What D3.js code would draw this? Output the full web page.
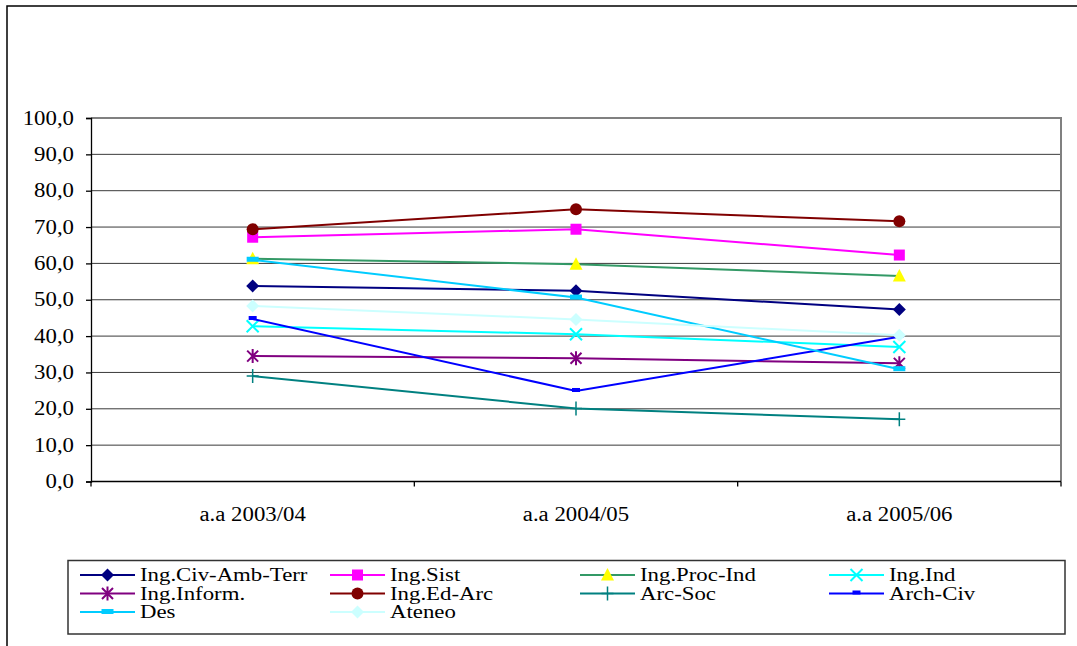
<!DOCTYPE html>
<html>
<head>
<meta charset="utf-8">
<script src="https://cdn.jsdelivr.net/npm/d3@7"></script>
<style>
  html, body { margin: 0; padding: 0; background: #fff; }
  svg { display: block; }
</style>
</head>
<body>
<div id="chart"></div>
<script>
// categories and tick labels
var categories = ["a.a 2003/04", "a.a 2004/05", "a.a 2005/06"];
var yTicks = [0, 10, 20, 30, 40, 50, 60, 70, 80, 90, 100];

// series names (legend order)
var seriesNames = ["Ing.Civ-Amb-Terr", "Ing.Sist", "Ing.Proc-Ind", "Ing.Ind", "Ing.Inform.",
                   "Ing.Ed-Arc", "Arc-Soc", "Arch-Civ", "Des", "Ateneo"];

// series values
var civAmbTerr = [53.8, 52.5, 47.3];
var sist       = [67.2, 69.4, 62.3];
var procInd    = [61.3, 59.8, 56.5];
var ind        = [42.7, 40.5, 37.0];
var inform     = [34.5, 33.9, 32.5];
var edArc      = [69.4, 74.9, 71.6];
var arcSoc     = [29.0, 20.1, 17.1];
var archCiv    = [44.7, 24.9, 39.8];
var des        = [61.0, 50.6, 30.9];
var ateneo     = [48.3, 44.6, 40.2];

var seriesValues = [civAmbTerr, sist, procInd, ind, inform, edArc, arcSoc, archCiv, des, ateneo];

// look of each series
var styles = [
    {line: "#000080", marker: "diamond",  fill: "#000080"},
    {line: "#FF00FF", marker: "square",   fill: "#FF00FF"},
    {line: "#339966", marker: "triangle", fill: "#FFFF00"},
    {line: "#00FFFF", marker: "x",        fill: "#00FFFF"},
    {line: "#800080", marker: "star",     fill: "#800080"},
    {line: "#800000", marker: "circle",   fill: "#800000"},
    {line: "#008080", marker: "plus",     fill: "#008080"},
    {line: "#0000FF", marker: "dashSmall",fill: "#0000FF"},
    {line: "#00CCFF", marker: "dash",     fill: "#00CCFF"},
    {line: "#CCFFFF", marker: "diamond",  fill: "#CCFFFF"}
];

var W = 1077, H = 646;
var plot = {left: 91, right: 1061, top: 118, bottom: 481.5};

var svg = d3.select("#chart").append("svg").attr("width", W).attr("height", H);

// outer chart frame (only top/left edges are visible)
svg.append("rect")
    .attr("x", 7).attr("y", 6).attr("width", 1200).attr("height", 800)
    .attr("fill", "none").attr("stroke", "#000").attr("stroke-width", 1.5);

var x = d3.scaleBand().domain(categories).range([plot.left, plot.right]);
var y = d3.scaleLinear().domain([0, 100]).range([plot.bottom, plot.top]);
var cx = function (c) { return x(c) + x.bandwidth() / 2; };

// text is drawn a bit wider than normal, like the source picture
function label(g, tx, ty, str, anchor, size, stretch) {
    var t = g.append("text")
        .attr("x", tx).attr("y", ty)
        .attr("text-anchor", anchor || "start")
        .style("font-family", "Liberation Serif")
        .style("font-size", (size || 20) + "px")
        .attr("fill", "#000")
        .text(str);
    var len = t.node().getComputedTextLength();
    t.attr("textLength", len * (stretch || 1.14)).attr("lengthAdjust", "spacingAndGlyphs");
    return t;
}

// gridlines
svg.append("g").selectAll("line").data(yTicks.filter(function (d) { return d > 0 && d < 100; }))
    .enter().append("line")
    .attr("x1", plot.left).attr("x2", plot.right)
    .attr("y1", function (d) { return y(d); }).attr("y2", function (d) { return y(d); })
    .attr("stroke", "#3a3a3a").attr("stroke-width", 1);

// plot border top/right
svg.append("path")
    .attr("d", "M" + plot.left + "," + y(100) + "H" + plot.right + "V" + plot.bottom)
    .attr("fill", "none").attr("stroke", "#808080").attr("stroke-width", 2);

// y axis
var yAxis = d3.axisLeft(y).tickValues(yTicks).tickSize(5).tickFormat("");
var yg = svg.append("g").attr("transform", "translate(" + plot.left + ",0)").call(yAxis);
yg.selectAll("path, line").attr("stroke", "#000").attr("stroke-width", 1.3);
yTicks.forEach(function (t) {
    label(svg, 74, y(t) + 6.5, d3.format(".1f")(t).replace(".", ","), "end");
});

// x axis: ticks at category boundaries
var xg = svg.append("g").attr("transform", "translate(0," + plot.bottom + ")");
xg.append("line").attr("x1", plot.left).attr("x2", plot.right).attr("stroke", "#000").attr("stroke-width", 1.5);
var bounds = categories.map(function (c) { return x(c); }).concat([plot.right]);
xg.selectAll(".tick").data(bounds).enter().append("line")
    .attr("x1", function (d) { return d; }).attr("x2", function (d) { return d; })
    .attr("y1", 0).attr("y2", 5).attr("stroke", "#000").attr("stroke-width", 1.3);
categories.forEach(function (c) {
    label(svg, cx(c), 521, c, "middle");
});

function drawMarker(g, type, color) {
    switch (type) {
        case "diamond":
            g.append("path").attr("d", "M0,-6.5L6.5,0L0,6.5L-6.5,0Z").attr("fill", color);
            break;
        case "square":
            g.append("rect").attr("x", -5.5).attr("y", -5.5).attr("width", 11).attr("height", 11).attr("fill", color);
            break;
        case "triangle":
            g.append("path").attr("d", "M0,-7L6.5,5.5L-6.5,5.5Z").attr("fill", color);
            break;
        case "circle":
            g.append("circle").attr("r", 6).attr("fill", color);
            break;
        case "x":
            g.append("path").attr("d", "M-6,-6L6,6M-6,6L6,-6").attr("stroke", color).attr("stroke-width", 2).attr("fill", "none");
            break;
        case "star":
            g.append("path").attr("d", "M-5.5,-5.5L5.5,5.5M-5.5,5.5L5.5,-5.5M0,-7V7").attr("stroke", color).attr("stroke-width", 2).attr("fill", "none");
            break;
        case "plus":
            g.append("path").attr("d", "M0,-7V7M-6,0H6").attr("stroke", color).attr("stroke-width", 1.5).attr("fill", "none");
            break;
        case "dashSmall":
            g.append("rect").attr("x", -4).attr("y", -3).attr("width", 8).attr("height", 4).attr("fill", color);
            break;
        case "dash":
            g.append("rect").attr("x", -6).attr("y", -3).attr("width", 12).attr("height", 5).attr("fill", color);
            break;
    }
}

// series
var line = d3.line()
    .x(function (d, i) { return cx(categories[i]); })
    .y(function (d) { return y(d); });

seriesValues.forEach(function (vals, si) {
    var st = styles[si];
    var g = svg.append("g").attr("class", "series");
    g.append("path").datum(vals).attr("d", line)
        .attr("fill", "none").attr("stroke", st.line).attr("stroke-width", 2);
    vals.forEach(function (v, i) {
        drawMarker(g.append("g").attr("transform", "translate(" + cx(categories[i]) + "," + y(v) + ")"), st.marker, st.fill);
    });
});

// legend
var legend = svg.append("g");
legend.append("rect").attr("x", 68).attr("y", 560.5).attr("width", 997).attr("height", 73.5)
    .attr("fill", "#fff").attr("stroke", "#333").attr("stroke-width", 1.5);
var colX = [80, 330, 580, 829], rowY = [575, 593.5, 612];
seriesNames.forEach(function (name, i) {
    var lx = colX[i % 4], ly = rowY[Math.floor(i / 4)];
    var st = styles[i];
    legend.append("line").attr("x1", lx).attr("x2", lx + 55).attr("y1", ly).attr("y2", ly)
        .attr("stroke", st.line).attr("stroke-width", 2);
    drawMarker(legend.append("g").attr("transform", "translate(" + (lx + 27.5) + "," + ly + ")"), st.marker, st.fill);
    label(legend, lx + 60, ly + 6, name, "start", 19, 1.2);
});
</script>
</body>
</html>
